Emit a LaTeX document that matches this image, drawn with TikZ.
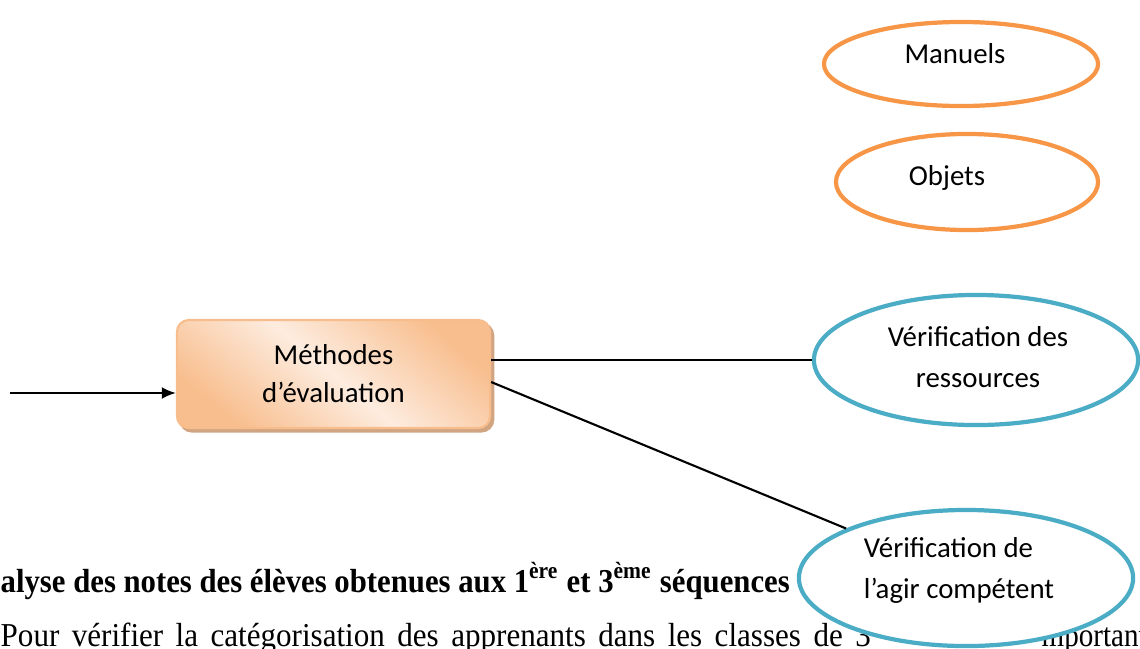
\documentclass[tikz,border=0pt]{standalone}
\usepackage{fontspec}
\setmainfont{Liberation Serif}
\newfontfamily\diagfont{Carlito}
\usetikzlibrary{shapes.geometric,arrows.meta,calc}

\definecolor{ovalorange}{HTML}{F79646}
\definecolor{ovalaqua}{HTML}{4BACC6}
\definecolor{boxdark}{HTML}{F8BE8E}
\definecolor{boxlight}{HTML}{FDECDF}
\definecolor{boxborder}{HTML}{F8BD8C}
\definecolor{boxshadow}{HTML}{D2A582}

\tikzset{
	oval/.style={ellipse, draw=#1, line width=1.2pt, fill=white, inner sep=0pt},
	ovaltext/.style={font=\diagfont\fontsize{8.2}{11.4}\selectfont, inner sep=0pt, align=center},
	methodbox/.style={rectangle, rounded corners=3.4pt, draw=boxborder, line width=0.6pt,
		preaction={fill=boxshadow, draw=boxshadow, transform canvas={shift={(0.9pt,-1pt)}}},
		top color=boxdark, bottom color=boxdark, middle color=boxlight, shading angle=-40,
		minimum width=3.13cm, minimum height=1.08cm, inner sep=0pt, align=center,
		font=\diagfont\fontsize{8.2}{10.8}\selectfont},
	connector/.style={line width=0.6pt, black},
}

\begin{document}
\begin{tikzpicture}[x=0.01cm, y=-0.01cm]
\useasboundingbox (0,0) rectangle (1140,648);
\clip (0,0) rectangle (1140,648);

	%% Text unter dem Schema
	\node[anchor=base west, inner sep=0pt, font=\bfseries\fontsize{9.5}{11}\selectfont] (titre) at (0,592)
		{\scalebox{0.92}[1]{alyse des notes des élèves obtenues aux 1\textsuperscript{ère} et 3\textsuperscript{ème} séquences}};
	\node[anchor=base west, inner sep=0pt, font=\fontsize{9.5}{11}\selectfont] (para) at (0,646)
		{\scalebox{0.93}[1]{\makebox[9.35cm][s]{Pour vérifier la catégorisation des apprenants dans les classes de 3}}};
	\node[anchor=base west, inner sep=0pt, font=\fontsize{9.5}{11}\selectfont] (parafin) at (1041,646)
		{\scalebox{0.87}[1]{mportant}};
	%%%%%%%%%%%%%%%%

	%% Methoden
	\node[methodbox] (methodes) at (333.5,374) {Méthodes\\d’évaluation};

	%% Ellipsen
	\node[oval=ovalorange, minimum width=2.74cm, minimum height=0.84cm] (manuels) at (961,64) {};
	\node[oval=ovalorange, minimum width=2.62cm, minimum height=0.96cm] (objets) at (967,182) {};
	\node[oval=ovalaqua, minimum width=3.24cm, minimum height=1.30cm] (ressources) at (976,360) {};
	\node[oval=ovalaqua, minimum width=3.34cm, minimum height=1.36cm] (competent) at (966,578) {};

	\node[ovaltext, anchor=base] (manuelsTxt) at (955,63) {Manuels};
	\node[ovaltext, anchor=base] (objetsTxt) at (947,185) {Objets};
	\node[ovaltext, anchor=base] (ressourcesTxt) at (978,387) {Vérification des\\ressources};
	\node[ovaltext, anchor=base, align=left] (competentTxt) at (959,598) {Vérification de\\l’agir compétent};
	%%%%%%%%%%%%%%%%

	%% Verbindungen
	\coordinate (depart) at (10,393);
	\draw[connector, -{Latex[length=4pt, width=3.4pt]}] (depart) -- (depart -| methodes.west);
	\draw[connector] (methodes.east |- ressources.west) -- (ressources.west);
	\draw[connector] ($(methodes.east)+(0,8)$) -- (competent);
\end{tikzpicture}
\end{document}
